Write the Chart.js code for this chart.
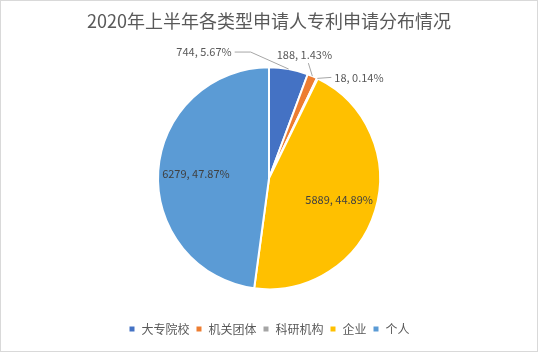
<!DOCTYPE html>
<html>
<head>
<meta charset="utf-8">
<script src="https://cdn.jsdelivr.net/npm/chart.js@4/dist/chart.umd.min.js"></script>
<style>
  html, body { margin: 0; padding: 0; background: #fff; }
  #wrap { width: 538px; height: 352px; box-sizing: border-box; border: 1px solid #d9d9d9; }
  canvas { display: block; }
</style>
</head>
<body>
<div id="wrap"><canvas id="pie" width="536" height="350"></canvas></div>
<script>
// ====== DATA ======
const categories = ['大专院校', '机关团体', '科研机构', '企业', '个人'];
const applications = [744, 188, 18, 5889, 6279];
const sliceColors = ['#4472C4', '#ED7D31', '#A5A5A5', '#FFC000', '#5B9BD5'];

const FONT = '"Microsoft YaHei", "Noto Sans CJK SC", sans-serif';
const total = applications.reduce((a, b) => a + b, 0);

// label placement: outside labels get a leader line from the slice edge
const labelLayout = [
  { line: [[-38, -17], [-54, -17]], text: [-57, -17], align: 'right' },
  { line: [[-4, -13]], text: [-8, -21], align: 'center' },
  { line: [[14, -1]], text: [17, -1], align: 'left' },
  { inside: 0.66 },
  { inside: 0.66 }
];

// ====== DATA LABEL PLUGIN ======
const pieLabels = {
  id: 'pieLabels',
  afterDatasetsDraw(chart) {
    const ctx = chart.ctx;
    const meta = chart.getDatasetMeta(0);
    ctx.save();
    ctx.font = '11px ' + FONT;
    ctx.textBaseline = 'middle';
    meta.data.forEach((arc, i) => {
      const v = applications[i];
      const text = v + ', ' + (v / total * 100).toFixed(2) + '%';
      const mid = (arc.startAngle + arc.endAngle) / 2;
      const lay = labelLayout[i];
      if (lay.inside) {
        const r = arc.outerRadius * lay.inside;
        ctx.fillStyle = '#404040';
        ctx.textAlign = 'center';
        ctx.fillText(text, arc.x + Math.cos(mid) * r, arc.y + Math.sin(mid) * r);
        return;
      }
      const ex = arc.x + Math.cos(mid) * arc.outerRadius;
      const ey = arc.y + Math.sin(mid) * arc.outerRadius;
      ctx.strokeStyle = '#A6A6A6';
      ctx.lineWidth = 1;
      ctx.beginPath();
      ctx.moveTo(ex, ey);
      lay.line.forEach(p => ctx.lineTo(ex + p[0], ey + p[1]));
      ctx.stroke();
      ctx.fillStyle = '#595959';
      ctx.textAlign = lay.align;
      ctx.fillText(text, ex + lay.text[0], ey + lay.text[1]);
    });
    ctx.restore();
  }
};

// ====== CHART ======
new Chart(document.getElementById('pie'), {
  type: 'pie',
  data: {
    labels: categories,
    datasets: [{
      data: applications,
      backgroundColor: sliceColors,
      borderColor: '#ffffff',
      borderWidth: 2
    }]
  },
  options: {
    responsive: false,
    animation: false,
    radius: 111,
    layout: { padding: { bottom: 6 } },
    plugins: {
      title: {
        display: true,
        text: '2020年上半年各类型申请人专利申请分布情况',
        color: '#595959',
        font: { family: FONT, size: 18, weight: 'normal' },
        padding: { top: 9, bottom: 8 }
      },
      legend: {
        position: 'bottom',
        labels: {
          color: '#595959',
          font: { family: FONT, size: 12 },
          boxWidth: 7,
          boxHeight: 7,
          padding: 6
        }
      },
      tooltip: { enabled: false }
    }
  },
  plugins: [pieLabels]
});
</script>
</body>
</html>
